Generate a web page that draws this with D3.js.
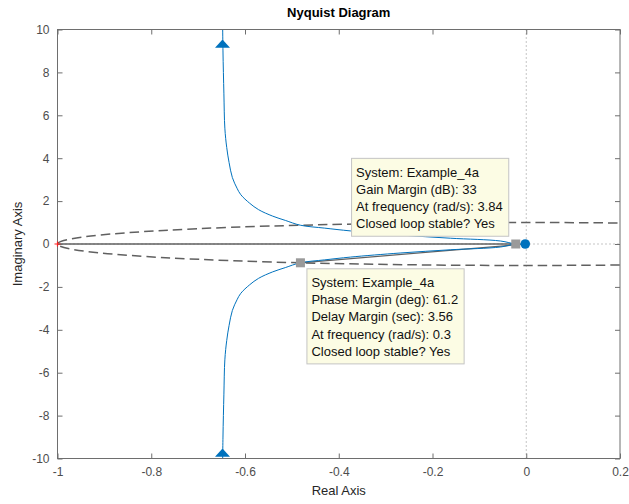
<!DOCTYPE html>
<html>
<head>
<meta charset="utf-8">
<script src="https://cdn.jsdelivr.net/npm/d3@7"></script>
<style>
  html, body { margin: 0; padding: 0; background: #fff; }
  svg { display: block; font-family: "Liberation Sans", Arial, Helvetica, sans-serif; }
</style>
</head>
<body>
<svg id="chart" width="629" height="504"></svg>
<script>
// Tick values and their labels
const xTicks = [-1, -0.8, -0.6, -0.4, -0.2, 0, 0.2];
const xTickLabels = ["-1", "-0.8", "-0.6", "-0.4", "-0.2", "0", "0.2"];
const yTicks = [-10, -8, -6, -4, -2, 0, 2, 4, 6, 8, 10];
const yTickLabels = ["-10", "-8", "-6", "-4", "-2", "0", "2", "4", "6", "8", "10"];

// Frequency response, negative-frequency branch (upper half plane)
const upperRe = [-0.648, -0.647, -0.645, -0.643, -0.639, -0.634, -0.627, -0.617, -0.609, -0.590, -0.571, -0.541, -0.514, -0.482, -0.430, -0.375, -0.269, -0.162, -0.055, -0.0224, 0];
const upperIm = [10.8, 9.0, 7.0, 5.4, 4.5, 3.8, 3.1, 2.6, 2.3, 1.9, 1.6, 1.3, 1.1, 0.876, 0.74, 0.61, 0.42, 0.27, 0.14, 0, 0];
// Positive-frequency branch (lower half plane)
const lowerRe = [-0.648, -0.647, -0.645, -0.643, -0.639, -0.634, -0.627, -0.617, -0.609, -0.590, -0.571, -0.541, -0.514, -0.482, -0.430, -0.375, -0.269, -0.162, -0.055, -0.0224, 0];
const lowerIm = [-10.8, -9.0, -7.0, -5.4, -4.5, -3.8, -3.1, -2.6, -2.3, -1.9, -1.6, -1.3, -1.1, -0.876, -0.74, -0.61, -0.42, -0.27, -0.14, 0, 0];

// Direction arrows (base centre of each triangle)
const arrowRe = [-0.648, -0.648];
const arrowIm = [9.15, -9.92];

// Stability margins
const gainMarginDb = 33;
const phaseMarginDeg = 61.2;
const gmTip = ["System: Example_4a", "Gain Margin (dB): 33", "At frequency (rad/s): 3.84", "Closed loop stable? Yes"];
const pmTip = ["System: Example_4a", "Phase Margin (deg): 61.2", "Delay Margin (sec): 3.56", "At frequency (rad/s): 0.3", "Closed loop stable? Yes"];

const svg = d3.select("#chart");
const plotLeft = 57.5, plotRight = 620, plotTop = 29.5, plotBottom = 458.5;
const x = d3.scaleLinear().domain([-1, 0.2]).range([plotLeft, plotRight]);
const y = d3.scaleLinear().domain([-10, 10]).range([plotBottom, plotTop]);

const frameColor = "#6e6e6e";
const labelColor = "#4d4d4d";
const blue = "#0072bd";
const marginGray = "#606060";

svg.append("clipPath").attr("id", "plotClip")
  .append("rect").attr("x", plotLeft).attr("y", plotTop)
  .attr("width", plotRight - plotLeft).attr("height", plotBottom - plotTop);

const plot = svg.append("g").attr("clip-path", "url(#plotClip)");

// Zero lines
plot.append("line")
  .attr("x1", x(0)).attr("x2", x(0)).attr("y1", plotTop).attr("y2", plotBottom)
  .attr("stroke", "#8a8a8a").attr("stroke-width", 1).attr("stroke-dasharray", "1,3");
plot.append("line")
  .attr("x1", plotLeft).attr("x2", plotRight).attr("y1", y(0)).attr("y2", y(0))
  .attr("stroke", "#8a8a8a").attr("stroke-width", 1).attr("stroke-dasharray", "1,3");

// Unit circle
plot.append("ellipse")
  .attr("cx", x(0)).attr("cy", y(0))
  .attr("rx", x(1) - x(0)).attr("ry", y(0) - y(1))
  .attr("fill", "none").attr("stroke", marginGray)
  .attr("stroke-width", 1.5).attr("stroke-dasharray", "9.5,5");

// Margin points
const gmRe = -Math.pow(10, -gainMarginDb / 20);
const pmAngle = (-180 + phaseMarginDeg) * Math.PI / 180;
const pmRe = Math.cos(pmAngle), pmIm = Math.sin(pmAngle);

// Gain margin line from the critical point, phase margin line from the origin
plot.append("line")
  .attr("x1", x(-1)).attr("y1", y(0)).attr("x2", x(gmRe)).attr("y2", y(0))
  .attr("stroke", marginGray).attr("stroke-width", 1.5);
plot.append("line")
  .attr("x1", x(0)).attr("y1", y(0)).attr("x2", x(pmRe)).attr("y2", y(pmIm))
  .attr("stroke", marginGray).attr("stroke-width", 1.2);

// Nyquist curve
const line = d3.line()
  .x(d => x(d[0])).y(d => y(d[1]))
  .curve(d3.curveCatmullRom.alpha(0.5));
plot.append("path")
  .attr("d", line(d3.zip(upperRe, upperIm)))
  .attr("fill", "none").attr("stroke", blue).attr("stroke-width", 1);
plot.append("path")
  .attr("d", line(d3.zip(lowerRe, lowerIm)))
  .attr("fill", "none").attr("stroke", blue).attr("stroke-width", 1);

// Arrows
plot.selectAll("path.arrow")
  .data(d3.zip(arrowRe, arrowIm))
  .join("path").attr("class", "arrow")
  .attr("d", d => {
    const px = x(d[0]), py = y(d[1]);
    return `M${px - 7.5},${py} L${px + 7.5},${py} L${px},${py - 8.3} Z`;
  })
  .attr("fill", blue);

// End point at the origin
plot.append("circle")
  .attr("cx", x(0) - 1).attr("cy", y(0)).attr("r", 4.8)
  .attr("fill", blue);

// Margin markers
const markers = [[gmRe, 0], [pmRe, pmIm]];
plot.selectAll("rect.marker")
  .data(markers)
  .join("rect").attr("class", "marker")
  .attr("x", d => x(d[0]) - 4.5).attr("y", d => y(d[1]) - 4.5)
  .attr("width", 9).attr("height", 9)
  .attr("fill", "#9a9a9a");

// Axes with inward ticks
const xAxisB = d3.axisBottom(x).tickValues(xTicks).tickSize(-5).tickPadding(9)
  .tickFormat((d, i) => xTickLabels[i]);
const xAxisT = d3.axisTop(x).tickValues(xTicks).tickSize(-5).tickFormat("");
const yAxisL = d3.axisLeft(y).tickValues(yTicks).tickSize(-5).tickPadding(8)
  .tickFormat((d, i) => yTickLabels[i]);
const yAxisR = d3.axisRight(y).tickValues(yTicks).tickSize(-5).tickFormat("");

function styleAxis(g) {
  g.select(".domain").remove();
  g.selectAll(".tick line").attr("stroke", frameColor);
  g.selectAll(".tick text").attr("fill", labelColor)
    .attr("font-size", 12).attr("font-family", "Liberation Sans, Arial, sans-serif");
}
svg.append("g").attr("transform", `translate(0,${plotBottom})`).call(xAxisB).call(styleAxis);
svg.append("g").attr("transform", `translate(0,${plotTop})`).call(xAxisT).call(styleAxis);
svg.append("g").attr("transform", `translate(${plotLeft},0)`).call(yAxisL).call(styleAxis);
svg.append("g").attr("transform", `translate(${plotRight},0)`).call(yAxisR).call(styleAxis);

svg.append("rect")
  .attr("x", plotLeft).attr("y", plotTop)
  .attr("width", plotRight - plotLeft).attr("height", plotBottom - plotTop)
  .attr("fill", "none").attr("stroke", frameColor).attr("stroke-width", 1);

// Critical point
const cpx = x(-1), cpy = y(0);
svg.append("path")
  .attr("d", `M${cpx - 3},${cpy} L${cpx + 3},${cpy} M${cpx},${cpy - 2.5} L${cpx},${cpy + 2.5}`)
  .attr("stroke", "#ff2020").attr("stroke-width", 1.2);

// Data tips
function dataTip(lines, anchorX, anchorY, placement) {
  const g = svg.append("g");
  const box = g.append("rect")
    .attr("fill", "#fcfce4").attr("stroke", "#c4c4c4").attr("stroke-width", 1);
  const texts = g.selectAll("text").data(lines).join("text")
    .attr("font-size", 13).attr("fill", "#111")
    .text(d => d);
  let w = 0;
  texts.each(function () { w = Math.max(w, this.getComputedTextLength()); });
  const bw = w + 10.5;
  const lineGap = 17.2, firstBase = 18.3, padBottom = 8;
  const bh = firstBase + lineGap * (lines.length - 1) + padBottom;
  let bx, by;
  if (placement === "upperLeft") { bx = anchorX - 7 - bw; by = anchorY - 7.75 - bh; }
  else { bx = anchorX + 6.5; by = anchorY + 6; }
  box.attr("x", bx).attr("y", by).attr("width", bw).attr("height", bh);
  texts.attr("x", bx + 4.5).attr("y", (d, i) => by + firstBase + i * lineGap);
}
dataTip(gmTip, x(gmRe), y(0), "upperLeft");
dataTip(pmTip, x(pmRe), y(pmIm), "lowerRight");

// Titles
svg.append("text")
  .attr("x", (plotLeft + plotRight) / 2).attr("y", 16.5)
  .attr("text-anchor", "middle").attr("font-size", 13).attr("font-weight", "bold")
  .attr("fill", "#000").text("Nyquist Diagram");
svg.append("text")
  .attr("x", (plotLeft + plotRight) / 2).attr("y", 495)
  .attr("text-anchor", "middle").attr("font-size", 13).attr("fill", "#262626")
  .text("Real Axis");
svg.append("text")
  .attr("transform", `translate(22,${(plotTop + plotBottom) / 2}) rotate(-90)`)
  .attr("text-anchor", "middle").attr("font-size", 13).attr("fill", "#262626")
  .text("Imaginary Axis");
</script>
</body>
</html>
